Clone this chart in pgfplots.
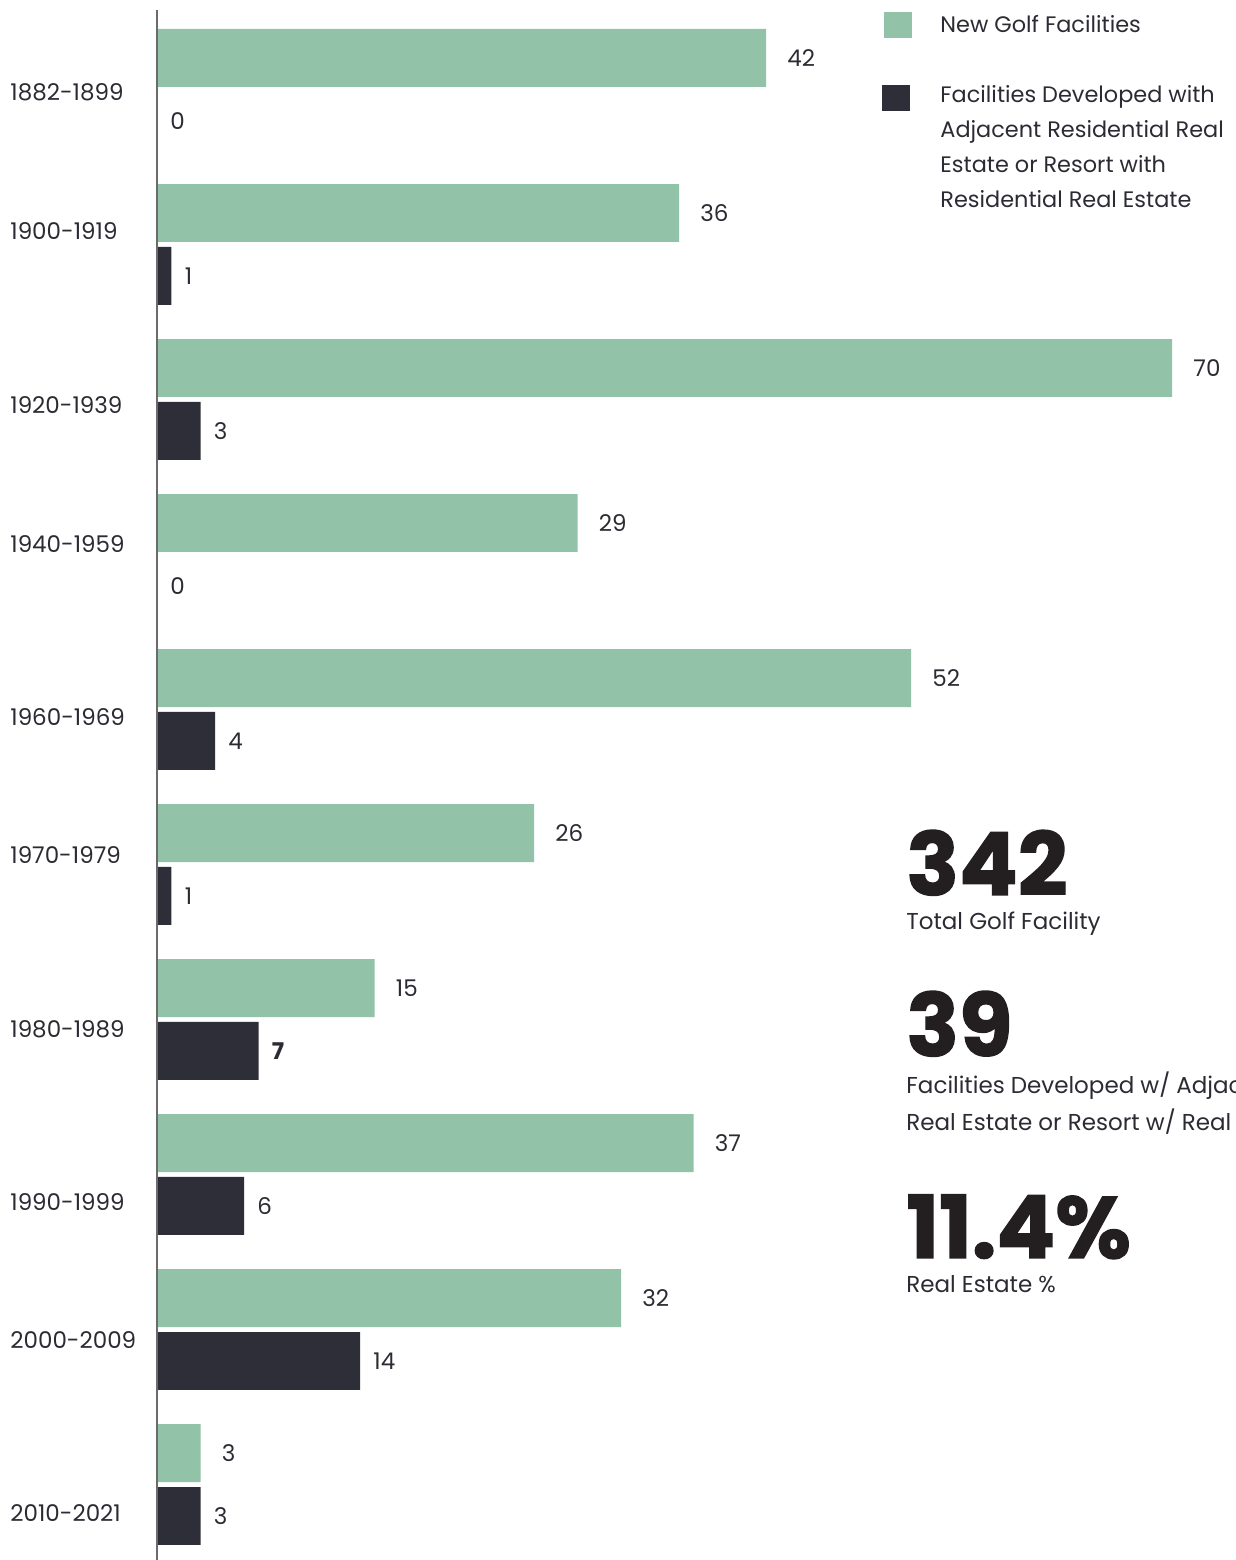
\documentclass[border=0pt]{standalone}
\usepackage{pgfplots}
\pgfplotsset{compat=1.18}
\usepackage{fontspec}
\setmainfont{Poppins}
\newfontfamily\heavyfont{Poppins}[BoldFeatures={FakeBold=1.6}]
\definecolor{golfgreen}{HTML}{92C3A8}
\definecolor{golfdark}{HTML}{2E2E38}
\definecolor{txt}{HTML}{2B2B33}
\definecolor{axisgray}{HTML}{6B6B6B}
\definecolor{bignum}{HTML}{231F20}
\newcommand{\lblfont}{\fontsize{11.5}{17.5}\selectfont}
\newcommand{\legfont}{\fontsize{11.2}{17.5}\selectfont}
\newcommand{\bigfont}{\fontsize{43.5}{45}\selectfont\heavyfont\bfseries}
\begin{document}
\begin{tikzpicture}
\begin{axis}[
  name=ax, at={(0,0)}, anchor=south west,
  scale only axis, width=539pt, height=780pt,
  xmin=0, xmax=74.34, ymin=-0.577, ymax=9.487, y dir=reverse,
  axis line style={draw=none},
  xtick=\empty,
  ytick={0.016,0.913,2.035,2.932,4.048,4.94,6.061,7.177,8.068,9.184},
  yticklabels={1882-1899,1900-1919,1920-1939,1940-1959,1960-1969,1970-1979,1980-1989,1990-1999,2000-2009,2010-2021},
  major tick length=0pt,
  yticklabel style={anchor=west, inner sep=0pt, xshift=-73.5pt, font=\lblfont, text=txt},
  xbar,
  bar width=0.374,
  clip=false,
  legend style={at={(0.667,0.9949)}, anchor=north west, draw=none, fill=none,
    font=\legfont, text=txt, cells={anchor=west}, nodes={align=left, inner sep=0pt},
    row sep=23.5pt},
]
\addplot[fill=golfgreen, draw=none, bar shift=-0.203,
  point meta=explicit symbolic, nodes near coords,
  every node near coord/.append style={anchor=west, inner sep=0pt, xshift=10.5pt, font=\lblfont, text=txt},
  legend image code/.code={\fill[golfgreen] (0pt,-6.5pt) rectangle (14pt,6.5pt);}]
  coordinates {(42,0)[42] (36,1)[36] (70,2)[70] (29,3)[29] (52,4)[52] (26,5)[26] (15,6)[15] (37,7)[37] (32,8)[32] (3,9)[3]};
\addlegendentry{\hspace*{14pt}New Golf Facilities}
\addplot[fill=golfdark, draw=none, bar shift=0.203,
  point meta=explicit symbolic, nodes near coords,
  every node near coord/.append style={anchor=west, inner sep=0pt, xshift=6.5pt, font=\lblfont, text=txt},
  legend image code/.code={\fill[golfdark] (-1pt,18.25pt) rectangle (13pt,31.25pt);}]
  coordinates {(0,0)[0] (1,1)[1] (3,2)[3] (0,3)[0] (4,4)[4] (1,5)[1] (7,6)[\textbf{7}] (6,7)[6] (14,8)[14] (3,9)[3]};
\addlegendentry{\hspace*{14pt}Facilities Developed with\\\hspace*{14pt}Adjacent Residential Real\\\hspace*{14pt}Estate or Resort with\\\hspace*{14pt}Residential Real Estate}
\draw[axisgray, line width=1pt] (axis cs:0,-0.513) -- (axis cs:0,9.487);
\end{axis}
\node[anchor=base west, inner sep=0pt, font=\bigfont, text=bignum] at ([xshift=374.5pt, yshift=-447.5pt]ax.north west) {342};
\node[anchor=base west, inner sep=0pt, font=\lblfont, text=txt] at ([xshift=374.5pt, yshift=-465pt]ax.north west) {Total Golf Facility};
\node[anchor=base west, inner sep=0pt, font=\bigfont, text=bignum] at ([xshift=374.5pt, yshift=-528pt]ax.north west) {39};
\node[anchor=base west, inner sep=0pt, font=\lblfont, text=txt] at ([xshift=374.5pt, yshift=-547pt]ax.north west) {Facilities Developed w/ Adjacent Residential};
\node[anchor=base west, inner sep=0pt, font=\lblfont, text=txt] at ([xshift=374.5pt, yshift=-565.5pt]ax.north west) {Real Estate or Resort w/ Real Estate};
\node[anchor=base west, inner sep=0pt, font=\bigfont, text=bignum] at ([xshift=374.5pt, yshift=-629pt]ax.north west) {11.4\%};
\node[anchor=base west, inner sep=0pt, font=\lblfont, text=txt] at ([xshift=374.5pt, yshift=-646.5pt]ax.north west) {Real Estate \%};
\pgfresetboundingbox
\path[use as bounding box] ([xshift=-78.5pt]ax.south west) rectangle (ax.north east);
\end{tikzpicture}
\end{document}
